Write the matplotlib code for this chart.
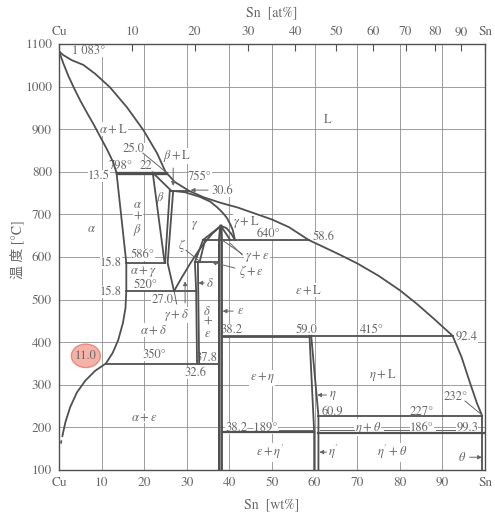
import matplotlib
matplotlib.use("Agg")
import matplotlib.pyplot as plt
from matplotlib.patches import Ellipse

plt.rcParams['font.family'] = ['STIXGeneral', 'Noto Sans CJK JP']
plt.rcParams['mathtext.fontset'] = 'stix'

LINE = '#505050'
GRID = '#8e8e8e'
TEXT = '#666666'

# phase boundaries as (Sn wt%, temperature C)
liquidus = [(0, 1083), (1.0, 1074), (3.0, 1062), (5.7, 1051), (8.5, 1030), (12.0, 998),
            (15.9, 952), (19.8, 898), (23.0, 844), (25.0, 800), (27.2, 776), (30.6, 755),
            (34.0, 740), (38.0, 727), (42.0, 716), (46.0, 702), (50.0, 688), (54.0, 670),
            (58.6, 640), (62.0, 624), (66.0, 605), (70.0, 585), (75.0, 556), (80.0, 522),
            (84.0, 490), (88.0, 455), (92.4, 415), (94.5, 365), (96.5, 304), (98.1, 257),
            (99.3, 228)]
alpha_solidus = [(0, 1083), (1.0, 1055), (2.2, 1025), (3.6, 995), (5.0, 967), (6.6, 938),
                 (8.2, 910), (9.8, 880), (11.4, 850), (12.6, 825), (13.5, 798)]
alpha_solvus = [(13.5, 798), (15.0, 660), (15.8, 586), (15.8, 520), (15.6, 480), (15.0, 445),
                (13.9, 405), (12.6, 375), (11.0, 350), (8.5, 333), (6.2, 310), (4.2, 282),
                (2.6, 247), (1.5, 212), (0.9, 185)]
alpha_solvus_tail = [(0.9, 185), (0.4, 160)]
beta_left = [(22.0, 798), (24.8, 586)]
beta_solidus = [(22.0, 798), (26.4, 755)]
beta_right = [(26.0, 755), (24.9, 586)]
gamma_left = [(26.8, 755), (25.5, 586), (27.0, 520)]
gamma_solidus = [(26.8, 755), (29.6, 752), (33.1, 741), (35.5, 730), (37.1, 717), (38.5, 703),
                 (39.4, 692), (40.3, 675), (40.8, 663), (41.3, 640)]
gamma_dome = [(27.0, 520), (29.0, 555), (31.0, 588), (32.8, 615), (34.3, 635), (36.0, 655),
              (38.0, 673), (39.3, 668), (40.4, 655), (41.3, 640)]
dome_inner_left = [(38.0, 673), (33.8, 640)]
dome_inner_right = [(38.0, 673), (40.2, 640)]
zeta_left = [(33.8, 640), (31.9, 588)]
zeta_right = [(34.3, 640), (33.0, 588)]
delta_left = [(31.9, 588), (32.2, 520), (32.4, 350)]
delta_right = [(32.6, 588), (32.9, 350)]
eps_left = [(37.9, 673), (37.6, 640), (37.6, 100)]
eps_right = [(38.1, 673), (38.2, 640), (38.2, 100)]
eta_left = [(58.8, 415), (59.9, 189), (59.9, 100)]
eta_right = [(59.2, 415), (60.9, 227), (60.9, 100)]
theta_line = [(99.3, 227), (99.3, 100)]

# horizontal invariant lines: (from wt%, to wt%, temperature, width)
isotherms = [(13.5, 25.0, 798, 2.4), (26.0, 30.6, 755, 1.3), (15.8, 24.9, 586, 1.3),
             (15.8, 32.2, 520, 1.3), (31.9, 37.6, 588, 1.3), (33.8, 58.6, 640, 1.3),
             (11.0, 37.6, 350, 1.3), (38.2, 59.0, 415, 2.0), (59.0, 92.4, 415, 1.3),
             (38.2, 59.9, 189, 1.6), (60.9, 100, 186, 1.6), (60.9, 99.3, 227, 1.3)]

# tick labels
wt_ticks = [0, 10, 20, 30, 40, 50, 60, 70, 80, 90, 100]
wt_labels = ['Cu', '10', '20', '30', '40', '50', '60', '70', '80', '90', 'Sn']
at_ticks = [10, 20, 30, 40, 50, 60, 70, 80, 90]
temp_ticks = [100, 200, 300, 400, 500, 600, 700, 800, 900, 1000, 1100]

# region and point labels: (text, wt%, temperature)
labels = [
    ('1 083°', 7.0, 1084), (r'$\alpha+\mathrm{L}$', 12.7, 900), ('25.0', 17.6, 854),
    (r'$\beta+\mathrm{L}$', 27.7, 837), ('798°', 14.6, 814), ('22', 20.4, 814),
    ('13.5', 9.4, 790), ('755°', 33.1, 788), ('30.6', 38.3, 755), ('L', 63.1, 922),
    (r'$\beta$', 23.7, 738), (r'$\alpha$', 7.7, 665),
    (r'$\alpha$', 18.5, 722), ('+', 18.5, 694), (r'$\beta$', 18.5, 663),
    (r'$\gamma$', 31.9, 675), (r'$\gamma+\mathrm{L}$', 44.1, 682), ('640°', 49.1, 654),
    ('58.6', 62.0, 647), (r'$\zeta$', 28.9, 626), (r'$\gamma+\varepsilon$', 46.5, 602),
    (r'$\zeta+\varepsilon$', 45.3, 565), (r'$\delta$', 35.4, 537),
    (r'$\delta$', 34.8, 473), ('+', 34.8, 447), (r'$\varepsilon$', 34.8, 419),
    (r'$\varepsilon$', 42.6, 473), ('38.2', 40.6, 429), ('37.8', 34.7, 363),
    ('32.6', 31.9, 328), ('350°', 22.3, 370), ('11.0', 6.3, 368),
    (r'$\alpha+\delta$', 22.1, 429), (r'$\gamma+\delta$', 27.5, 464), ('27.0', 24.2, 499),
    ('586°', 19.7, 605), ('15.8', 12.2, 586), (r'$\alpha+\gamma$', 19.7, 565),
    ('520°', 20.4, 534), ('15.8', 12.2, 518), (r'$\varepsilon+\mathrm{L}$', 58.7, 523),
    ('59.0', 58.2, 429), ('415°', 73.5, 429), ('92.4', 95.8, 412),
    (r'$\varepsilon+\eta$', 47.7, 316), (r'$\eta$', 64.3, 276), ('60.9', 64.3, 236),
    (r'$\eta+\mathrm{L}$', 76.1, 323), ('232°', 93.2, 271), ('227°', 85.2, 236),
    ('38.2–189°', 45.1, 199), (r'$\eta+\theta$', 72.5, 199), ('186°', 85.2, 199),
    ('99.3', 95.8, 199), (r"$\varepsilon+\eta'$", 49.5, 142), (r"$\eta'$", 64.5, 142),
    (r"$\eta'+\theta$", 78.2, 142), (r'$\theta$', 94.6, 130), (r'$\alpha+\varepsilon$', 20.0, 224),
]

# pointers with heads and plain leader lines: ((wt, T) start, (wt, T) end)
arrows = [((26.8, 809), (26.8, 767)), ((35.0, 757), (30.9, 757)), ((34.1, 539), (32.7, 539)),
          ((40.9, 473), (38.4, 473)), ((29.6, 492), (29.6, 543)), ((62.8, 276), (60.6, 276)),
          ((62.8, 142), (61.1, 142)), ((96.4, 130), (99.3, 130)), ((41.3, 574), (35.9, 588))]
leaders = [((19.7, 844), (24.9, 801)), ((29.8, 616), (33.0, 590)), ((43.0, 607), (38.4, 639)),
           ((43.0, 605), (40.2, 632)), ((27.6, 490), (27.1, 517)), ((95.3, 262), (99.2, 230)),
           ((51.6, 193), (59.5, 193)), ((61.2, 193), (69.3, 193)), ((76.2, 193), (82.2, 193)),
           ((88.4, 193), (92.9, 193))]


def at_to_wt(a):
    sn, cu = 118.71, 63.546
    return 100 * a * sn / (a * sn + (100 - a) * cu)


fig = plt.figure(figsize=(4.95, 5.14), dpi=100)
ax = fig.add_axes([0.1192, 0.0856, 0.8606, 0.8288])
ax.set_xlim(0, 100)
ax.set_ylim(100, 1100)
for s in ax.spines.values():
    s.set_color(LINE)
    s.set_linewidth(1.0)
ax.set_xticks(wt_ticks)
ax.set_xticklabels(wt_labels)
ax.set_yticks(temp_ticks)
ax.tick_params(length=0, pad=5, labelsize=9.5, labelcolor=TEXT)
ax.grid(color=GRID, lw=0.6)
ax.set_axisbelow(True)

top = ax.twiny()
top.set_xlim(0, 100)
top.set_xticks([0] + [at_to_wt(a) for a in at_ticks] + [100])
top.set_xticklabels(['Cu'] + [str(a) for a in at_ticks] + ['Sn'])
top.tick_params(direction='in', length=5, width=0.8, color=LINE, pad=4,
                labelsize=9.5, labelcolor=TEXT)
for s in top.spines.values():
    s.set_visible(False)

curves = [liquidus, alpha_solidus, alpha_solvus, beta_left, beta_solidus, beta_right,
          gamma_left, gamma_solidus, gamma_dome, dome_inner_left, dome_inner_right,
          zeta_left, zeta_right, delta_left, delta_right, eta_left, eta_right, theta_line]
for c in curves:
    ax.plot([p[0] for p in c], [p[1] for p in c], color=LINE, lw=1.3, zorder=3)
for c in (eps_left, eps_right):
    ax.plot([p[0] for p in c], [p[1] for p in c], color=LINE, lw=1.7, zorder=3)
ax.plot([p[0] for p in alpha_solvus_tail], [p[1] for p in alpha_solvus_tail],
        color=LINE, lw=1.2, ls=(0, (2, 2)), zorder=3)
for x0, x1, t, w in isotherms:
    ax.plot([x0, x1], [t, t], color=LINE, lw=w, zorder=3)

ax.add_patch(Ellipse((6.3, 368), 6.8, 55, facecolor='#f2a093', edgecolor='#e57a6a',
                     lw=1.0, alpha=0.8, zorder=2))

for s, x, t in labels:
    bg = None if s == '11.0' else dict(fc='white', ec='none', pad=0.3)
    ax.text(x, t, s, ha='center', va='center', fontsize=9, color=TEXT,
            zorder=2.5, bbox=bg)

for p0, p1 in arrows:
    ax.annotate('', xy=p1, xytext=p0, zorder=4,
                arrowprops=dict(arrowstyle='-|>', color=TEXT, lw=0.7,
                                mutation_scale=6, shrinkA=0, shrinkB=0))
for p0, p1 in leaders:
    ax.plot([p0[0], p1[0]], [p0[1], p1[1]], color=TEXT, lw=0.7, zorder=4)

fig.text(17 / 495, 1 - 250 / 514, '温 度 [°C]', rotation=90, ha='center', va='center',
         fontsize=10, color=TEXT)
fig.text(272 / 495, 1 - 505 / 514, 'Sn  [wt%]', ha='center', va='center',
         fontsize=10, color=TEXT)
fig.text(272 / 495, 1 - 13 / 514, 'Sn  [at%]', ha='center', va='center',
         fontsize=10, color=TEXT)

fig.savefig('out.png', dpi=100)
